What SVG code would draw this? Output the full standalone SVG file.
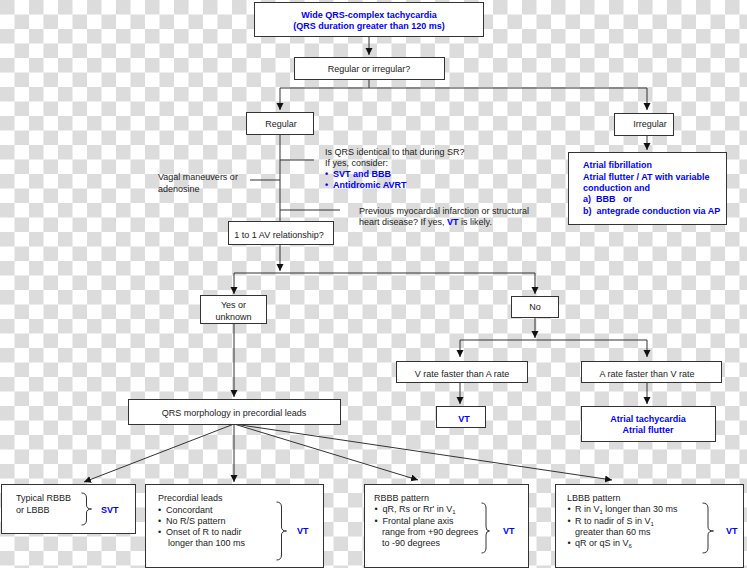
<svg xmlns="http://www.w3.org/2000/svg" width="747" height="568" viewBox="0 0 747 568">
<defs>
<pattern id="checker" x="0" y="0" width="29" height="29" patternUnits="userSpaceOnUse">
<rect width="29" height="29" fill="#ffffff"/>
<rect width="14.5" height="14.5" fill="#dcdcdc"/>
<rect x="14.5" y="14.5" width="14.5" height="14.5" fill="#dcdcdc"/>
</pattern>
<marker id="arr" markerUnits="userSpaceOnUse" markerWidth="8" markerHeight="8" refX="7" refY="3.5" orient="auto">
<path d="M0,0 L7,3.5 L0,7 z" fill="#111"/>
</marker>
</defs>
<style>
.box{fill:#fff;stroke:#333;stroke-width:1}
.t{font-family:"Liberation Sans",Arial,sans-serif;font-size:9px;fill:#222}
.c{text-anchor:middle}
.b{font-weight:bold;fill:#0000ff}
.ln{fill:none;stroke:#333;stroke-width:1}
.ar{fill:none;stroke:#333;stroke-width:1;marker-end:url(#arr)}
.br{fill:none;stroke:#333;stroke-width:1}
.sub{font-size:6px}
</style>
<rect width="747" height="568" fill="url(#checker)"/>

<g id="connectors">
<path class="ar" d="M369 36 V55"/>
<path class="ln" d="M369 79 V88 M280 88 H647"/>
<path class="ar" d="M280 88 V110"/>
<path class="ar" d="M647 88 V110"/>
<path class="ln" d="M280 134 V221 M280 160 H314 M250 180 H280 M280 210 H340"/>
<path class="ar" d="M280 245 V271"/>
<path class="ln" d="M234 273 H535"/>
<path class="ar" d="M234 273 V294"/>
<path class="ar" d="M535 273 V294"/>
<path class="ar" d="M535 318 V338"/>
<path class="ln" d="M460 340 H647"/>
<path class="ar" d="M460 340 V357"/>
<path class="ar" d="M647 340 V357"/>
<path class="ar" d="M460 383 V404"/>
<path class="ar" d="M647 383 V404"/>
<path class="ar" d="M647 135 V150"/>
<path class="ar" d="M234 324 V397"/>
<path class="ar" d="M234 424 L84 482"/>
<path class="ar" d="M234 424 V482"/>
<path class="ar" d="M234 424 L418 480"/>
<path class="ar" d="M234 424 L612 480"/>
</g>

<g id="wide-qrs">
<rect class="box" x="254.5" y="2.5" width="229" height="34"/>
<text class="t c b" x="369" y="18">Wide QRS-complex tachycardia</text>
<text class="t c b" x="369" y="29">(QRS duration greater than 120 ms)</text>
</g>

<g id="regular-or-irregular">
<rect class="box" x="294.5" y="57.5" width="150" height="22"/>
<text class="t c" x="369" y="72">Regular or irregular?</text>
</g>

<g id="regular">
<rect class="box" x="246.5" y="112.5" width="67" height="22"/>
<text class="t c" x="281" y="127">Regular</text>
</g>

<g id="irregular">
<rect class="box" x="614.5" y="113.5" width="59" height="22"/>
<text class="t c" x="650" y="127">Irregular</text>
</g>

<g id="irregular-result">
<rect class="box" x="568.5" y="152.5" width="158" height="72"/>
<text class="t b" x="583" y="168">Atrial fibrillation</text>
<text class="t b" x="583" y="179.5">Atrial flutter / AT with variable</text>
<text class="t b" x="583" y="191">conduction and</text>
<text class="t b" x="583" y="202" xml:space="preserve">a)  BBB   or</text>
<text class="t b" x="583" y="213.5" xml:space="preserve">b)  antegrade conduction via AP</text>
</g>

<g id="note-sr">
<text class="t" x="325" y="155">Is QRS identical to that during SR?</text>
<text class="t" x="325" y="166">If yes, consider:</text>
<text class="t b" x="325" y="177">•</text>
<text class="t b" x="333" y="177">SVT and BBB</text>
<text class="t b" x="325" y="188">•</text>
<text class="t b" x="333" y="188">Antidromic AVRT</text>
</g>

<g id="note-vagal">
<text class="t" x="158" y="180">Vagal maneuvers or</text>
<text class="t" x="158" y="191.5">adenosine</text>
</g>

<g id="note-mi">
<text class="t" x="359" y="214">Previous myocardial infarction or structural</text>
<text class="t" x="359" y="225">heart disease? If yes, <tspan font-weight="bold" fill="#0000ff">VT</tspan> is likely.</text>
</g>

<g id="av-relationship">
<rect class="box" x="228.5" y="221.5" width="105" height="23"/>
<text class="t c" x="279" y="237.5">1 to 1 AV relationship?</text>
</g>

<g id="yes-unknown">
<rect class="box" x="200.5" y="295.5" width="66" height="28"/>
<text class="t c" x="233.5" y="308">Yes or</text>
<text class="t c" x="233.5" y="320">unknown</text>
</g>

<g id="no">
<rect class="box" x="511.5" y="296.5" width="47" height="21"/>
<text class="t c" x="535" y="310">No</text>
</g>

<g id="v-faster">
<rect class="box" x="396.5" y="361.5" width="131" height="21"/>
<text class="t c" x="462" y="376.5">V rate faster than A rate</text>
</g>

<g id="a-faster">
<rect class="box" x="581.5" y="361.5" width="140" height="21"/>
<text class="t c" x="647" y="376.5">A rate faster than V rate</text>
</g>

<g id="vt">
<rect class="box" x="436.5" y="406.5" width="49" height="21"/>
<text class="t c b" x="464" y="422">VT</text>
</g>

<g id="atrial-tach">
<rect class="box" x="581.5" y="406.5" width="134" height="35"/>
<text class="t c b" x="648" y="421.5">Atrial tachycardia</text>
<text class="t c b" x="648" y="432.5">Atrial flutter</text>
</g>

<g id="qrs-morphology">
<rect class="box" x="128.5" y="399.5" width="212" height="25"/>
<text class="t c" x="234" y="416">QRS morphology in precordial leads</text>
</g>

<g id="typical-bbb">
<rect class="box" x="1.5" y="484.5" width="134" height="49"/>
<text class="t" x="16" y="501">Typical RBBB</text>
<text class="t" x="16" y="512.5">or LBBB</text>
<path class="br" d="M81.5 493 Q86.5 493 86.5 498 L86.5 505 Q86.5 509 91.5 509 Q86.5 509 86.5 513 L86.5 520 Q86.5 525 81.5 525"/>
<text class="t b" x="101" y="513">SVT</text>
</g>

<g id="precordial">
<rect class="box" x="145.5" y="484.5" width="178" height="83"/>
<text class="t" x="158" y="501">Precordial leads</text>
<text class="t" x="158" y="512.5">•</text>
<text class="t" x="166" y="512.5">Concordant</text>
<text class="t" x="158" y="524">•</text>
<text class="t" x="166" y="524">No R/S pattern</text>
<text class="t" x="158" y="535">•</text>
<text class="t" x="166" y="535">Onset of R to nadir</text>
<text class="t" x="168" y="546">longer than 100 ms</text>
<path class="br" d="M276.5 502 Q281.5 502 281.5 507 L281.5 527 Q281.5 531 286.5 531 Q281.5 531 281.5 535 L281.5 555 Q281.5 560 276.5 560"/>
<text class="t b" x="297" y="534">VT</text>
</g>

<g id="rbbb">
<rect class="box" x="364.5" y="484.5" width="164" height="83"/>
<text class="t" x="374" y="501">RBBB pattern</text>
<text class="t" x="374.5" y="512">•</text>
<text class="t" x="382.5" y="512">qR, Rs or Rr' in V<tspan class="sub" dy="2">1</tspan></text>
<text class="t" x="374.5" y="523.5">•</text>
<text class="t" x="382.5" y="523.5">Frontal plane axis</text>
<text class="t" x="382" y="535">range from +90 degrees</text>
<text class="t" x="382" y="546">to -90 degrees</text>
<path class="br" d="M481.5 503 Q486 503 486 508 L486 527 Q486 531 489.5 531 Q486 531 486 535 L486 548 Q486 553 481.5 553"/>
<text class="t b" x="503" y="534">VT</text>
</g>

<g id="lbbb">
<rect class="box" x="555.5" y="484.5" width="188" height="83"/>
<text class="t" x="567" y="501">LBBB pattern</text>
<text class="t" x="567.5" y="512">•</text>
<text class="t" x="575" y="512">R in V<tspan class="sub" dy="2">1</tspan><tspan dy="-2"> longer than 30 ms</tspan></text>
<text class="t" x="567.5" y="523.5">•</text>
<text class="t" x="575" y="523.5">R to nadir of S in V<tspan class="sub" dy="2">1</tspan></text>
<text class="t" x="575" y="535">greater than 60 ms</text>
<text class="t" x="567.5" y="546">•</text>
<text class="t" x="575" y="546">qR or qS in V<tspan class="sub" dy="2">6</tspan></text>
<path class="br" d="M702.5 503 Q708 503 708 508 L708 527 Q708 531 713.5 531 Q708 531 708 535 L708 548 Q708 553 702.5 553"/>
<text class="t b" x="726" y="534">VT</text>
</g>
</svg>
